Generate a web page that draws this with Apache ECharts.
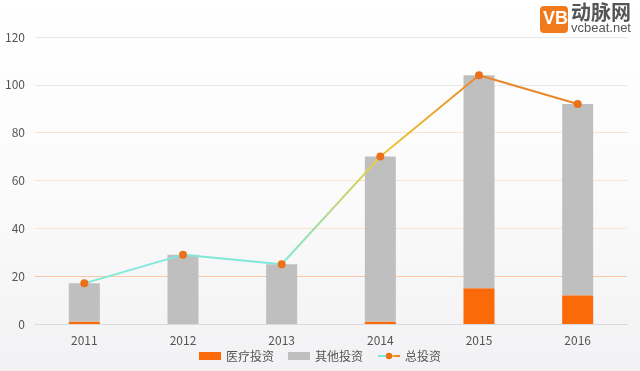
<!DOCTYPE html>
<html><head><meta charset="utf-8">
<script src="https://cdn.jsdelivr.net/npm/echarts@6/dist/echarts.min.js"></script>
<style>html,body{margin:0;padding:0;}#c{width:640px;height:371px;}</style>
</head><body><div id="c"></div>
<script>
const years = ['2011','2012','2013','2014','2015','2016'];
const medical = [1, 0, 0, 1, 15, 12];
const other = [16, 29, 25, 69, 89, 80];
const total = [17, 29, 25, 70, 104, 92];
const yTicks = [0, 20, 40, 60, 80, 100, 120];

const chart = echarts.init(document.getElementById('c'));
chart.setOption({
  backgroundColor: new echarts.graphic.LinearGradient(0,0,0,1,[
    {offset:0,color:'#ffffff'},{offset:0.5,color:'#fbfbfc'},{offset:1,color:'#f2f2f4'}]),
  animation: false,
  textStyle: {fontFamily: '"Noto Sans CJK SC", "Open Sans", sans-serif'},
  grid: {left: 35, right: 13, top: 37, bottom: 47},
  legend: {
    bottom: 4, left: 'center', itemWidth: 22, itemHeight: 8, itemGap: 14,
    textStyle: {fontSize: 12, color: '#555'},
    data: [{name:'医疗投资', icon:'rect'}, {name:'其他投资', icon:'rect'}, {name:'总投资'}]
  },
  xAxis: {
    type: 'category', data: years,
    axisLine: {lineStyle: {color: '#d9d9d9'}},
    axisTick: {show: false},
    axisLabel: {color: '#555', fontSize: 12, margin: 10}
  },
  yAxis: {
    type: 'value', min: 0, max: 120, interval: 20,
    axisLabel: {color: '#555', fontSize: 12, margin: 10,
      formatter: v => yTicks.includes(v) ? String(v) : ''},
    axisLine: {show: false}, axisTick: {show: false},
    splitLine: {lineStyle: {width: 1, color: ['#e0e0e0','#f8c9a4','#f4e6c6','#f4e6c6','#f4e6c6','#e8e8e8','#e8e8e8']}}
  },
  series: [
    {name:'医疗投资', type:'bar', stack:'a', data: medical, barWidth: 31,
     itemStyle: {color: '#fb6a08'}},
    {name:'其他投资', type:'bar', stack:'a', data: other, barWidth: 31,
     itemStyle: {color: '#bfbfbf'}},
    {name:'总投资', type:'line', data: total, symbol:'circle', symbolSize: 8,
     itemStyle: {color: '#ec6f1a'},
     lineStyle: {width: 2, color: new echarts.graphic.LinearGradient(0,0,1,0,[
       {offset:0,color:'#80e8d8'},{offset:0.4,color:'#80e8d8'},
       {offset:0.6,color:'#eccb3a'},{offset:0.8,color:'#ea872a'},{offset:1,color:'#ea872a'}])}}
  ],
  graphic: [
    {type:'rect', left: 540, top: 6, shape:{width:28, height:27, r:4}, style:{fill:'#f07a1c'}},
    {type:'text', left: 543, top: 10, style:{text:'VB', fill:'#fff', font:'bold 18px "Liberation Sans", sans-serif'}},
    {type:'text', left: 571, top: 2, style:{text:'动脉网', fill:'#555', font:'bold 20px "Noto Sans CJK SC", sans-serif'}},
    {type:'text', left: 571, top: 22, style:{text:'vcbeat.net', fill:'#555', font:'13px "Liberation Sans", sans-serif'}}
  ]
});
</script></body></html>
